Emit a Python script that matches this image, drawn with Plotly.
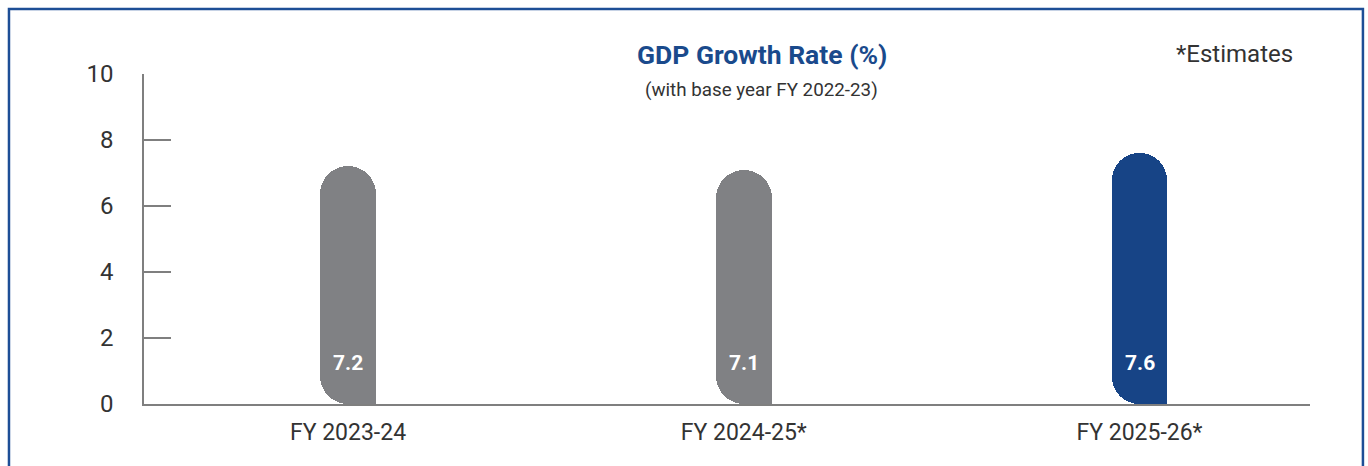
import plotly.graph_objects as go

# GDP growth data
categories = ["FY 2023-24", "FY 2024-25*", "FY 2025-26*"]
growth = [7.2, 7.1, 7.6]
bar_colors = ["#808184", "#808184", "#174486"]
y_ticks = [0, 2, 4, 6, 8, 10]

xpos = list(range(len(categories)))
n = len(growth)
BAR_W = 0.141          # bar width in axis units
FONT = "Roboto"

# Each bar is built from overlapping pieces of one colour:
# a rounded top cap, a rounded bottom foot, a square middle band
# and a square right-half foot (bottom-right corner stays square).
UPPER_BASE = 2.0
LOWER_TOP = 3.2
MID_LO, MID_HI = 1.0, 4.0
FOOT_TOP = 1.2

def piece(y, base, width, offset=None, rounded=True):
    marker = dict(color=bar_colors, line=dict(width=0))
    if rounded:
        marker["cornerradius"] = "50%"
    kw = dict(x=xpos, y=y, base=base, width=width, marker=marker,
              hoverinfo="skip", showlegend=False)
    if offset is not None:
        kw["offset"] = offset
    return go.Bar(**kw)

fig = go.Figure()
fig.add_trace(piece([v - UPPER_BASE for v in growth], [UPPER_BASE] * n, BAR_W))
fig.add_trace(piece([-LOWER_TOP] * n, [LOWER_TOP] * n, BAR_W))
fig.add_trace(piece([MID_HI - MID_LO] * n, [MID_LO] * n, BAR_W, rounded=False))
fig.add_trace(piece([FOOT_TOP] * n, [0] * n, BAR_W / 2, offset=0, rounded=False))

# Value labels near the foot of each bar
for x, v in zip(xpos, growth):
    fig.add_annotation(
        x=x, y=1.25, text=f"<b>{v}</b>", showarrow=False,
        xanchor="center", yanchor="middle",
        font=dict(family=FONT, size=21, color="white"),
    )

# Titles
fig.add_annotation(
    xref="paper", yref="paper", x=0.530, y=1.0606, text="<b>GDP Growth Rate (%)</b>",
    showarrow=False, xanchor="center", yanchor="middle",
    font=dict(family=FONT, size=26.5, color="#1a4a8c"),
)
fig.add_annotation(
    xref="paper", yref="paper", x=0.530, y=0.9515, text="(with base year FY 2022-23)",
    showarrow=False, xanchor="center", yanchor="middle",
    font=dict(family=FONT, size=18.8, color="#333333"),
)
fig.add_annotation(
    xref="paper", yref="paper", x=0.9352, y=1.0606, text="*Estimates",
    showarrow=False, xanchor="center", yanchor="middle",
    font=dict(family=FONT, size=24, color="#333333"),
)

# Blue frame around the chart
fig.add_shape(
    type="rect", xref="paper", yref="paper",
    x0=-0.1158, x1=1.0454, y0=-0.4, y1=1.197,
    line=dict(color="#1d4e96", width=2.5), fillcolor="rgba(0,0,0,0)", layer="below",
)

fig.update_layout(
    width=1368, height=466,
    margin=dict(l=144, r=58, t=74, b=62),
    paper_bgcolor="white", plot_bgcolor="white",
    barmode="overlay", bargap=0,
    font=dict(family=FONT, color="#333333"),
    xaxis=dict(
        range=[-0.5155, 2.4308], tickmode="array", tickvals=xpos, ticktext=categories,
        showline=True, linecolor="#7f7f7f", linewidth=1.5, ticks="",
        showgrid=False, zeroline=False, tickfont=dict(size=23, color="#333333"),
        ticklabelstandoff=7,
    ),
    yaxis=dict(
        range=[0, 10], tickmode="array", tickvals=y_ticks,
        showline=True, linecolor="#7f7f7f", linewidth=1.5,
        ticks="inside", ticklen=27, tickcolor="#7f7f7f", tickwidth=1.5,
        showgrid=False, zeroline=False, tickfont=dict(size=24, color="#333333"),
        ticklabelstandoff=24,
    ),
)

fig.write_html("out.html")
